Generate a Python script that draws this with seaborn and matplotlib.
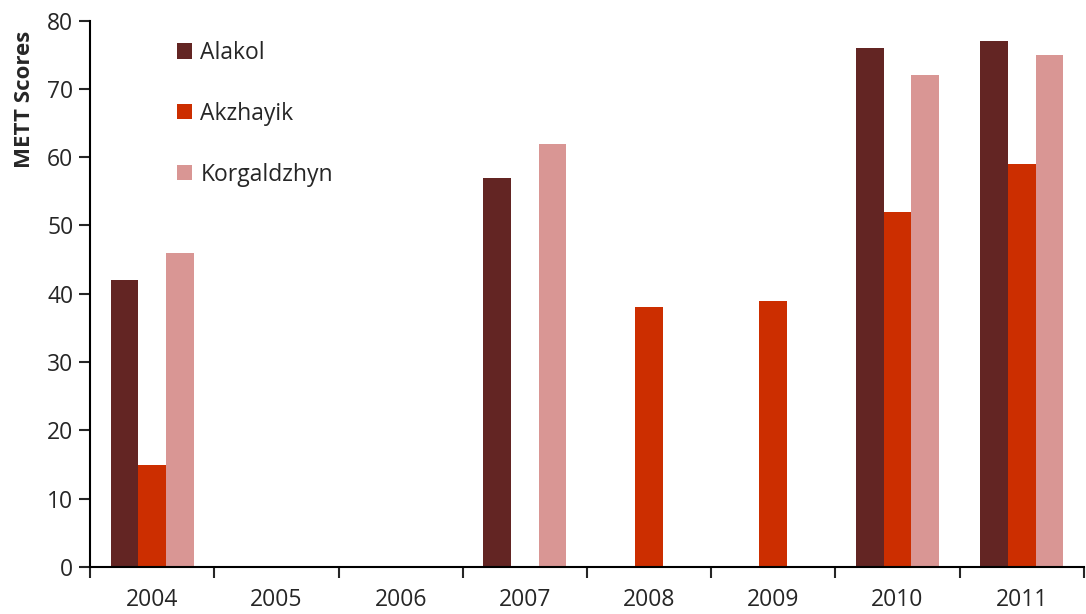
import numpy as np
import pandas as pd
import matplotlib
matplotlib.use("Agg")
import matplotlib.pyplot as plt
import seaborn as sns

years = ["2004", "2005", "2006", "2007", "2008", "2009", "2010", "2011"]
alakol = [42, np.nan, np.nan, 57, np.nan, np.nan, 76, 77]
akzhayik = [15, np.nan, np.nan, np.nan, 38, 39, 52, 59]
korgaldzhyn = [46, np.nan, np.nan, 62, np.nan, np.nan, 72, 75]
sites = ["Alakol", "Akzhayik", "Korgaldzhyn"]
colors = ["#632523", "#CC2E00", "#D99694"]

df = pd.DataFrame({"year": years * 3,
                   "site": np.repeat(sites, len(years)),
                   "score": alakol + akzhayik + korgaldzhyn})

sns.set_style("white")
plt.rcParams['font.family'] = ['Open Sans', 'DejaVu Sans']

fig = plt.figure(figsize=(10.86, 6.14), dpi=100)
ax = fig.add_axes([0.083, 0.0765, 0.915, 0.89])

sns.barplot(data=df, x="year", y="score", hue="site", order=years,
            hue_order=sites, palette=colors, width=0.67, saturation=1,
            linewidth=0, ax=ax)

ax.set_ylim(0, 80)
ax.set_xlim(-0.5, 7.5)
ax.set_yticks(range(0, 81, 10))
ax.set_xlabel("")
ax.set_ylabel("METT Scores", fontsize=16, fontweight="bold")
ax.yaxis.set_label_coords(-0.055, 0.855)
ax.tick_params(axis="y", labelsize=16.5, length=8, width=1.5, direction="out", left=True, pad=4)
ax.tick_params(axis="x", which="major", labelsize=16.5, length=0, pad=15)
ax.set_xticks(np.arange(-0.5, 8, 1), minor=True)
ax.tick_params(axis="x", which="minor", length=8, width=1.5, direction="out", bottom=True)

for s in ["top", "right"]:
    ax.spines[s].set_visible(False)
for s in ["left", "bottom"]:
    ax.spines[s].set_color("black")
    ax.spines[s].set_linewidth(1.5)

ax.legend(loc="upper left", bbox_to_anchor=(0.067, 1.0), frameon=False,
          fontsize=16.5, labelspacing=1.6, handlelength=0.65, handleheight=0.65,
          handletextpad=0.35, title=None)

fig.savefig("out.png", dpi=100)
